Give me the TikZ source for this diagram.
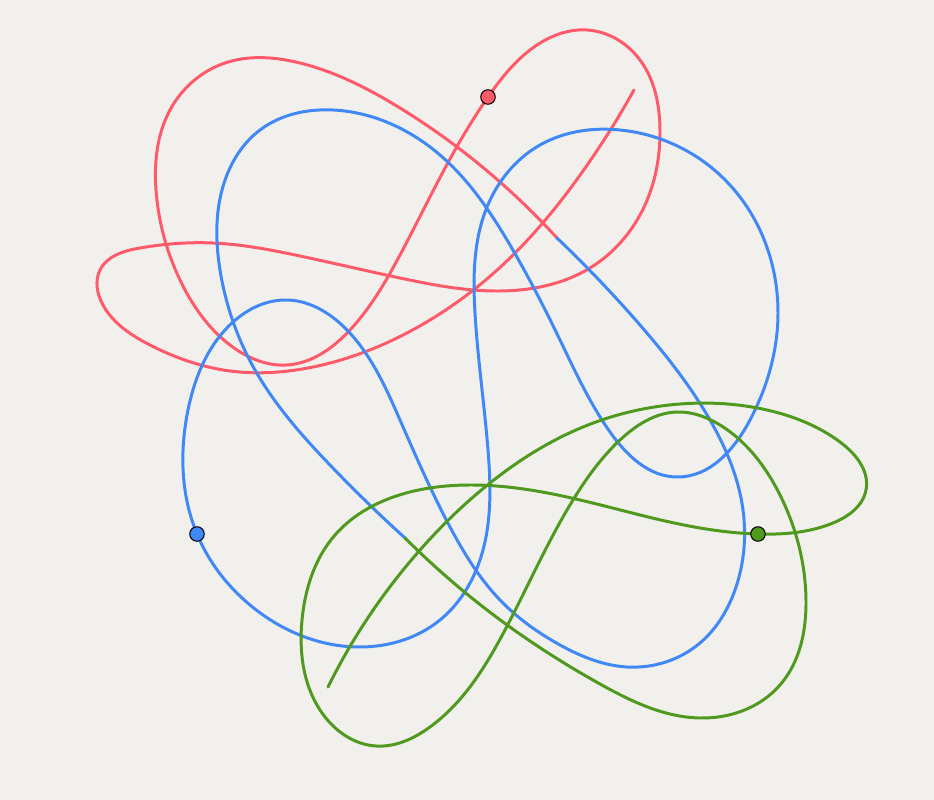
\documentclass[tikz,border=0pt]{standalone}
\usepackage{tikz}
\usetikzlibrary{hobby}
\definecolor{bgpaper}{HTML}{F2F0ED}
\definecolor{curvered}{HTML}{FF5A6A}
\definecolor{curveblue}{HTML}{4088F5}
\definecolor{curvegreen}{HTML}{4F9A1E}
\tikzset{
  curve/.style={draw=#1, line width=1.7pt, line cap=round, line join=round},
  curve/.default=curvered,
  marker/.style={circle, draw=black, fill=#1, line width=0.6pt,
    minimum size=0.29cm, inner sep=0pt},
}
\begin{document}
\begin{tikzpicture}[x=0.02cm, y=-0.02cm]

\fill[bgpaper] (0,0) rectangle (934,800);
\useasboundingbox (0,0) rectangle (934,800);

% red part
\draw[curve=curvered] plot[hobby] coordinates {
  (634,90) (578,178) (510,258) (430,320) (313,367) (230,371)
  (150,345) (103,305) (100,270) (140,248) (213,243) (300,256)
  (400,278) (500,291) (590,268) (645,205) (660,130) (640,60)
  (587,30) (530,50) (488,97) (455,150) (400,255) (350,330)
  (287,365) (230,345) (180,280) (156,190) (170,110) (225,63)
  (300,63) (400,108) (480,165) (557,238)};

% blue part
\draw[curve=curveblue] plot[hobby] coordinates {
  (557,238) (640,325) (710,420) (743,510) (735,590) (700,643)
  (627,667) (560,645) (500,600) (450,527) (400,420) (347,330)
  (287,300) (225,330) (188,410) (197,534) (250,605) (360,647)
  (440,620) (483,550) (488,450) (475,313) (487,207) (540,145)
  (620,130) (720,175) (778,313) (750,420) (677,477) (610,432)
  (560,340) (510,245) (440,155) (333,110) (260,130) (222,190)
  (220,270) (255,370) (330,465) (405,538)};

% green part
\draw[curve=curvegreen] plot[hobby] coordinates {
  (405,538) (503,622) (600,684) (700,718) (780,685) (806,600)
  (780,495) (720,425) (677,412) (620,440) (573,500) (505,630)
  (430,727) (376,746) (320,710) (302,620) (335,535) (410,492)
  (470,485) (567,497) (700,528) (758,534) (833,523) (866,490)
  (840,442) (767,410) (680,404) (583,427) (490,483) (420,550)
  (328,687)};

% markers
\node[marker=curvered] (redmark) at (488,97) {};
\node[marker=curveblue] (bluemark) at (197,534) {};
\node[marker=curvegreen] (greenmark) at (758,534) {};

\end{tikzpicture}
\end{document}
